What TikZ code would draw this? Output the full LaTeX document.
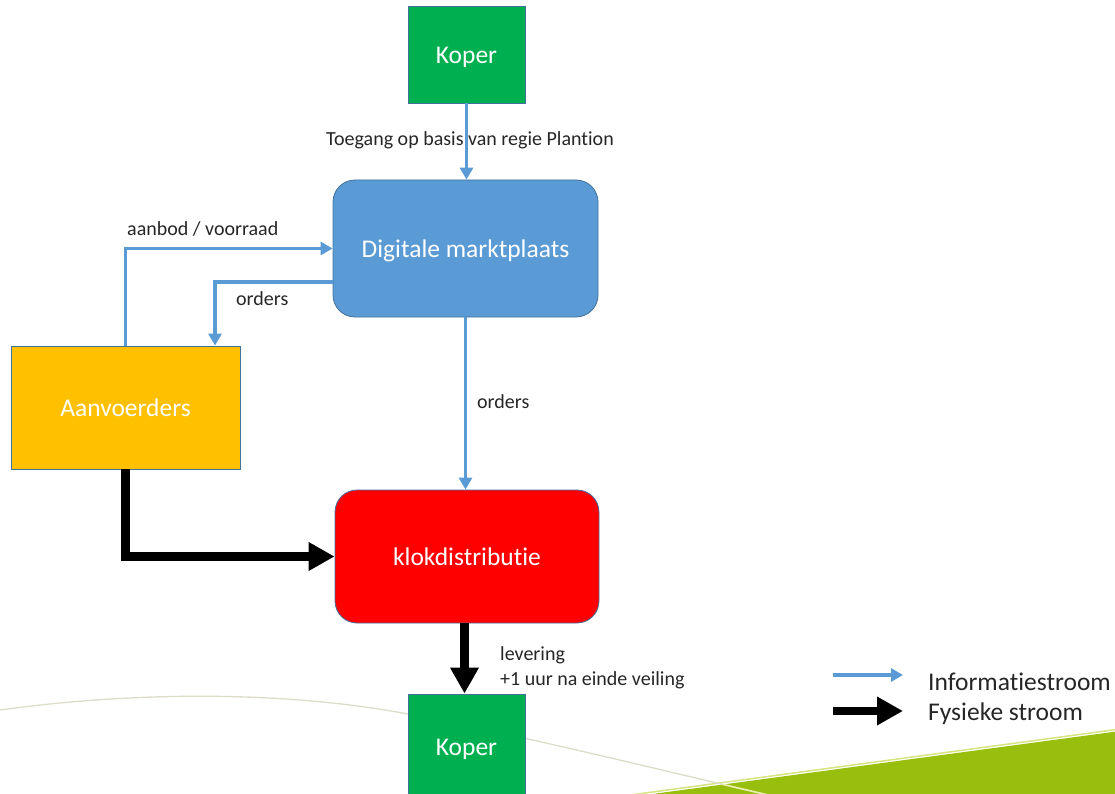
\documentclass[tikz,border=0pt]{standalone}
\usepackage{fontspec}
\setmainfont{Carlito}[RawFeature={-liga;-calt}]
\usetikzlibrary{arrows.meta,calc}
\definecolor{kgreen}{RGB}{0,176,80}
\definecolor{kblue}{RGB}{91,155,213}
\definecolor{korange}{RGB}{255,192,0}
\definecolor{kred}{RGB}{255,0,0}
\definecolor{kborder}{RGB}{65,113,156}
\definecolor{ktext}{RGB}{38,38,38}
\definecolor{wedge}{RGB}{152,190,14}
\definecolor{wedgeedge}{RGB}{214,228,130}
\definecolor{curvegray}{RGB}{220,220,200}
\definecolor{curvepale}{RGB}{235,240,170}
\tikzset{
  box/.style={draw=kborder, line width=0.8pt, text=white, inner sep=0pt,
    text height=18.5pt, text depth=0pt,
    font=\fontsize{25.5}{30}\selectfont},
  rbox/.style={box, rounded corners=22pt},
  lbl/.style={text=ktext, inner sep=0pt, text height=14pt, text depth=0pt,
    font=\fontsize{20}{24}\selectfont},
  legtext/.style={text=ktext, inner sep=0pt, anchor=west, text height=18pt, text depth=0pt,
    font=\fontsize{25.5}{30}\selectfont},
  info/.style={draw=kblue, line width=3.2pt, -{Triangle[length=12pt,width=13pt]}},
  phys/.style={draw=black, line width=8.5pt, line join=miter, -{Triangle[length=26pt,width=27pt]}}
}
\begin{document}
\begin{tikzpicture}[x=1pt,y=-1pt]
\useasboundingbox (0,0) rectangle (1115,794);
% background decoration
\fill[wedge] (608,800) -- (1120,731) -- (1120,800) -- cycle;
\draw[wedgeedge, line width=1.5pt] (608,798) -- (1120,729);
\draw[curvegray, line width=1.3pt] (0,710) .. controls (130,692) and (280,690) .. (408,714) .. controls (530,737) and (680,775) .. (790,800);
\begin{scope}
\clip (608,800) -- (1120,731) -- (1120,800) -- cycle;
\draw[curvepale, line width=1.5pt] (0,710) .. controls (130,692) and (280,690) .. (408,714) .. controls (530,737) and (680,775) .. (790,800);
\end{scope}
% nodes
\node[box, fill=kgreen, minimum width=117pt, minimum height=97pt] (koper1) at (466.5,54.5) {Koper};
\node[rbox, fill=kblue, minimum width=265pt, minimum height=137pt] (dig) at (465.5,248.5) {Digitale marktplaats};
\node[box, fill=korange, minimum width=229pt, minimum height=123pt] (aanv) at (125.5,407.5) {Aanvoerders};
\node[rbox, fill=kred, minimum width=264pt, minimum height=133pt] (klok) at (467,556.5) {klokdistributie};
\node[box, fill=kgreen, minimum width=117pt, minimum height=104pt] (koper2) at (466.5,746) {Koper};
% connectors
\draw[info] (koper1.south) -- (koper1.south |- dig.north);
\draw[info] (aanv.north) |- (dig.west);
\draw[info] ([yshift=-33.5pt]dig.west) -| ([xshift=89.5pt]aanv.north);
\draw[info] (dig.south) -- (dig.south |- klok.north);
\draw[phys] (aanv.south) |- (klok.west);
\draw[phys] ([xshift=-2.5pt]klok.south) -- ([xshift=-2.5pt]klok.south |- koper2.north);
% labels
\node[lbl] (l1) at (470,139) {Toegang op basis van regie Plantion};
\node[lbl, anchor=west] (l2) at (127,229) {aanbod / voorraad};
\node[lbl, anchor=west] (l3) at (236,298) {orders};
\node[lbl, anchor=west] (l4) at (477,401) {orders};
\node[lbl, anchor=west] (l5) at (500,653) {levering};
\node[lbl, anchor=west] (l6) at (500,678) {+1 uur na einde veiling};
% legend
\coordinate (la1) at (833,675);
\coordinate (lb1) at (903,675);
\coordinate (la2) at (833,711);
\coordinate (lb2) at (903,711);
\draw[info] (la1) -- (lb1);
\draw[phys] (la2) -- (lb2);
\node[legtext] (lt1) at (928,681) {Informatiestroom};
\node[legtext] (lt2) at (928,711) {Fysieke stroom};
\end{tikzpicture}
\end{document}
